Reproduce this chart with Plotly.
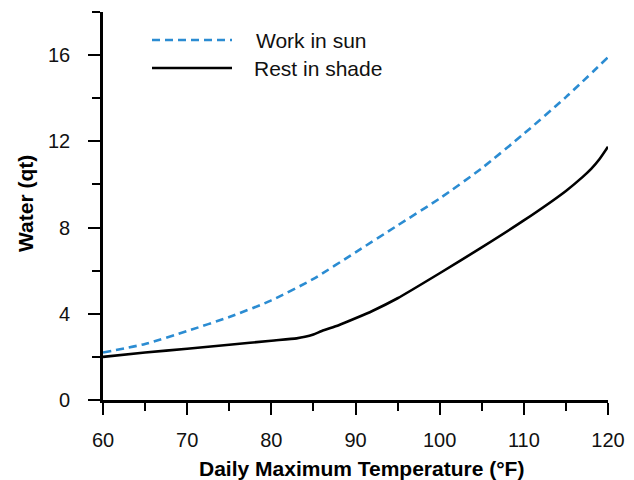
import plotly.graph_objects as go

# Data
temp_sun = [60, 65, 70, 75, 80, 85, 90, 95, 100, 105, 110, 115, 120]
water_sun = [2.2, 2.6, 3.2, 3.85, 4.62, 5.62, 6.85, 8.1, 9.35, 10.75, 12.35, 14.05, 15.9]

temp_shade = [60, 65, 70, 75, 80, 83, 84, 85, 86, 88, 90, 92, 95, 100, 105, 110, 115, 117, 118, 119, 120]
water_shade = [2.0, 2.2, 2.38, 2.56, 2.75, 2.86, 2.93, 3.04, 3.2, 3.47, 3.79, 4.13, 4.72, 5.88, 7.08, 8.33, 9.7, 10.35, 10.72, 11.18, 11.75]

series_names = ["Work in sun", "Rest in shade"]
x_ticks = [60, 70, 80, 90, 100, 110, 120]
y_ticks = [0, 4, 8, 12, 16]

BLUE = "#2b8cd2"
FONT = "Liberation Sans, Arial, sans-serif"

# The page body has an 8px margin; plot area targets screen x 103..608, y 12..400
OFF = 8
W, H = 634 - OFF, 480 - OFF
L, R, T, B = 103, 608, 12, 400
PW, PH = R - L, B - T


def px(xs):
    return (xs - L) / PW


def py(ys):
    return (B - ys) / PH


fig = go.Figure()
fig.add_trace(go.Scatter(x=temp_sun, y=water_sun, mode="lines", name=series_names[0],
                         line=dict(color=BLUE, width=2.6, dash="8px,5px", shape="spline", smoothing=0.6),
                         showlegend=False))
fig.add_trace(go.Scatter(x=temp_shade, y=water_shade, mode="lines", name=series_names[1],
                         line=dict(color="black", width=2.6, shape="spline", smoothing=0.6),
                         showlegend=False))

# Manual legend (line samples + labels)
fig.add_shape(type="line", xref="paper", yref="paper", x0=px(152), x1=px(232),
              y0=py(40), y1=py(40), line=dict(color=BLUE, width=2.6, dash="8px,5px"))
fig.add_shape(type="line", xref="paper", yref="paper", x0=px(152), x1=px(232),
              y0=py(68), y1=py(68), line=dict(color="black", width=2.6))
fig.add_annotation(text=series_names[0], xref="paper", yref="paper", x=px(254), y=py(41),
                   xanchor="left", yanchor="middle", showarrow=False,
                   font=dict(size=21, color="#111", family=FONT))
fig.add_annotation(text=series_names[1], xref="paper", yref="paper", x=px(252), y=py(68),
                   xanchor="left", yanchor="middle", showarrow=False,
                   font=dict(size=21, color="#111", family=FONT))

# Axis titles
fig.add_annotation(text="<b>Water (qt)</b>", xref="paper", yref="paper", x=px(25), y=py(204),
                   xanchor="center", yanchor="middle", textangle=-90, showarrow=False,
                   font=dict(size=21, color="black", family=FONT))
fig.add_annotation(text="<b>Daily Maximum Temperature (°F)</b>", xref="paper", yref="paper",
                   x=px(361), y=py(468), xanchor="center", yanchor="middle", showarrow=False,
                   font=dict(size=21, color="black", family=FONT))

fig.update_xaxes(range=[60, 120], tickmode="array", tickvals=x_ticks, ticktext=[str(v) for v in x_ticks],
                 showgrid=False, zeroline=False, showline=True, linecolor="black", linewidth=2.6,
                 ticks="outside", ticklen=12, tickwidth=2.4, tickcolor="black", ticklabelstandoff=8,
                 minor=dict(dtick=5, tick0=60, ticks="outside", ticklen=8, tickwidth=1.6, tickcolor="black"),
                 tickfont=dict(size=20, color="#111", family=FONT))
fig.update_yaxes(range=[0, 18], tickmode="array", tickvals=y_ticks, ticktext=[str(v) for v in y_ticks],
                 showgrid=False, zeroline=False, showline=True, linecolor="black", linewidth=2.6,
                 ticks="outside", ticklen=12, tickwidth=2.4, tickcolor="black", ticklabelstandoff=14,
                 minor=dict(dtick=2, tick0=0, ticks="outside", ticklen=8, tickwidth=1.6, tickcolor="black"),
                 tickfont=dict(size=20, color="#111", family=FONT))

fig.update_layout(width=W, height=H,
                  margin=dict(l=L - OFF, r=634 - R, t=T - OFF, b=480 - B),
                  plot_bgcolor="white", paper_bgcolor="white", showlegend=False,
                  font=dict(family=FONT))

fig.write_html("out.html")
